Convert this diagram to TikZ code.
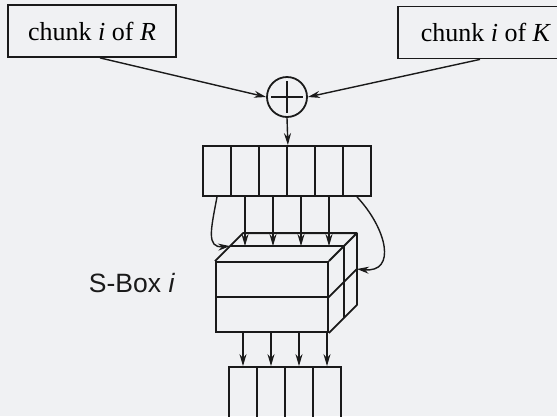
\documentclass[tikz,border=0pt]{standalone}
\usepackage{fontspec}
\setmainfont{Liberation Serif}
\newfontfamily\labelsans{Liberation Sans}
\usetikzlibrary{arrows.meta,calc}
\definecolor{paper}{HTML}{F0F1F3}
\definecolor{ink}{HTML}{1A1A1A}
\tikzset{
  chunk/.style={draw=ink, line width=1.8pt, minimum height=52pt, inner sep=0pt,
                font=\fontsize{26}{30}\selectfont},
  cell/.style={draw=ink, line width=1.8pt, minimum width=28pt, minimum height=50pt, inner sep=0pt},
  link/.style={-{Stealth[length=12pt,width=7pt]}, line width=1.4pt, ink},
  edge3d/.style={line width=1.8pt, ink, line join=round},
}
\begin{document}
\begin{tikzpicture}[x=1pt, y=-1pt]
    % page: 557 x 416, y runs downwards
    \fill[paper] (0,0) rectangle (557,416);
    \clip (0,0) rectangle (557,416);

    % the two inputs and the xor
    \node[chunk, minimum width=168pt] (boxR) at (92,31) {chunk \textit{i} of \textit{R}};
    \node[chunk, minimum width=176pt] (boxK) at (486,32.5) {chunk \textit{i} of \textit{K}};
    \node[circle, draw=ink, line width=1.8pt, minimum size=40pt, inner sep=0pt] (xor) at (287,97) {};
    \draw[line width=2pt, ink] (xor.center) +(-16,0) -- +(16,0) (xor.center) +(0,-16) -- +(0,16);
    \draw[link] ([xshift=8pt]boxR.south) -- (xor.west);
    \draw[link] ([xshift=-6pt]boxK.south) -- (xor.east);

    % six-cell register
    \foreach \k in {1,...,6}
      \node[cell] (c\k) at ({189+28*\k},171) {};
    \draw[link] (xor.south) -- (c3.north east);

    % S-box drawn as a split block
    \node[draw=ink, line width=1.8pt, minimum width=112pt, minimum height=70pt, inner sep=0pt] (sbox) at (272,297) {};
    \coordinate (btl) at ($(sbox.north west)+(28,-28)$);
    \coordinate (btr) at ($(sbox.north east)+(28,-28)$);
    \coordinate (bbr) at ($(sbox.south east)+(28,-28)$);
    \coordinate (bmr) at ($(sbox.east)+(28,-28)$);
    \coordinate (mtl) at ($(sbox.north west)+(15,-15)$);
    \coordinate (mtr) at ($(sbox.north east)+(15,-15)$);
    \coordinate (mbr) at ($(sbox.south east)+(15,-15)$);
    \draw[edge3d] (sbox.north west) -- (btl) -- (btr) -- (sbox.north east);
    \draw[edge3d] (btr) -- (bbr) -- (sbox.south east);
    \draw[edge3d] (mtl) -- (mtr) -- (mbr);
    \draw[edge3d] (sbox.west) -- (sbox.east) -- (bmr);
    \node[font=\labelsans\fontsize{26.5}{30}\selectfont, text=ink] (lbl) at (132,283) {S-Box \textit{i}};

    % register into S-box
    \foreach \k in {2,...,5}
      \draw[link] (c\k.south) -- (c\k.south |- mtl);
    \draw[link] (c1.south) .. controls +(-6,32) and +(-24,2) .. (mtl);
    \draw[link] (c6.south) .. controls +(30,32) and +(40,4) .. (bmr);

    % four-cell output
    \foreach \k in {1,...,4}
      \node[cell, minimum height=70pt] (o\k) at ({215+28*\k},402) {};
    \foreach \k in {1,...,4}
      \draw[link] (o\k.north |- sbox.south) -- (o\k.north);
  \end{tikzpicture}
\end{document}
